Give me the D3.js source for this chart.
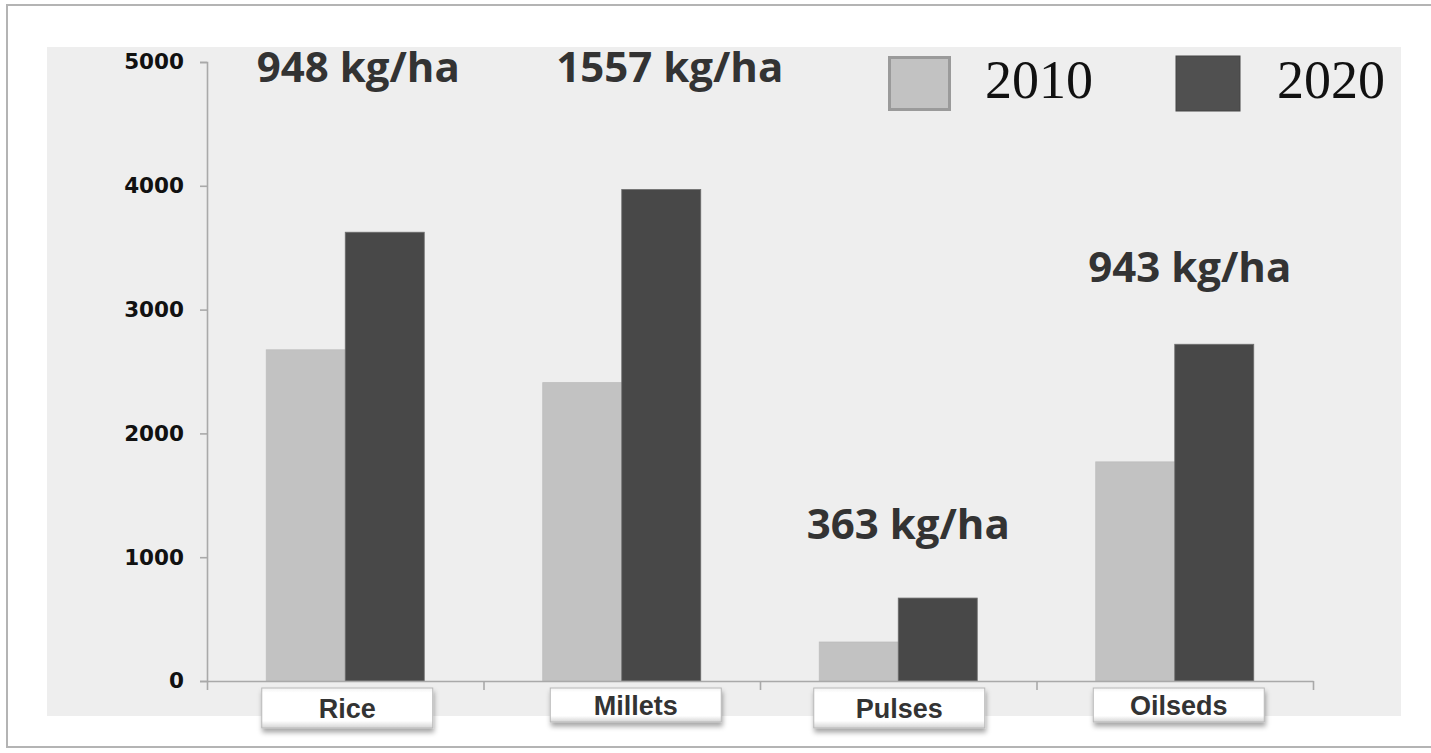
<!DOCTYPE html>
<html>
<head>
<meta charset="utf-8">
<script src="https://cdn.jsdelivr.net/npm/d3@7"></script>
<style>
    body { margin: 0; background: #fff; }
</style>
</head>
<body>
<script>

const crops = ['Rice', 'Millets', 'Pulses', 'Oilseds']
const years = ['2010', '2020']
const values2010 = [2675, 2410, 315, 1770]
const values2020 = [3625, 3970, 670, 2720]
const yieldLabels = ['948 kg/ha', '1557 kg/ha', '363 kg/ha', '943 kg/ha']
const yTicks = [0, 1000, 2000, 3000, 4000, 5000]

// layout only: where the yield labels and crop boxes sit
const yieldLabelLevel = [4840, 4840, 1150, 3220]
const yieldLabelNudge = [13, 48, 10, 15]
const cropBoxNudge = [2, 14, 1, 4]
const cropBoxHeight = [40, 34, 40, 34]

const renderChart = () => {

    const w = 1431
    const h = 753
    const left = 207
    const right = 1313
    const top = 62
    const bottom = 681

    const svg = d3.select('body')
        .append('svg')
            .attr('width', w)
            .attr('height', h)

    const defs = svg.append('defs')

    defs.append('filter')
        .attr('id', 'shadow')
        .attr('x', '-10%')
        .attr('y', '-20%')
        .attr('width', '120%')
        .attr('height', '160%')
        .append('feDropShadow')
            .attr('dx', 1)
            .attr('dy', 4)
            .attr('stdDeviation', 2.5)
            .attr('flood-color', '#000')
            .attr('flood-opacity', 0.35)

    const grad = defs.append('linearGradient')
        .attr('id', 'boxGrad')
        .attr('x1', 0).attr('y1', 0)
        .attr('x2', 0).attr('y2', 1)
    grad.append('stop').attr('offset', '0%').attr('stop-color', '#f2f2f2')
    grad.append('stop').attr('offset', '12%').attr('stop-color', '#ffffff')
    grad.append('stop').attr('offset', '82%').attr('stop-color', '#ffffff')
    grad.append('stop').attr('offset', '100%').attr('stop-color', '#d4d4d4')

    // frame and plot background
    svg.append('rect')
        .attr('x', 7)
        .attr('y', 5)
        .attr('width', 1460)
        .attr('height', 742)
        .attr('fill', '#fff')
        .attr('stroke', '#b4b4b4')
        .attr('stroke-width', 2)

    svg.append('rect')
        .attr('x', 47)
        .attr('y', 47)
        .attr('width', 1354)
        .attr('height', 669)
        .attr('fill', '#eeeeee')

    // scales
    const xScale = d3.scaleBand()
        .domain(crops)
        .range([left, right])

    const xSub = d3.scaleBand()
        .domain(years)
        .range([0, xScale.bandwidth()])
        .paddingOuter(0.75)

    const yScale = d3.scaleLinear()
        .domain([0, 5000])
        .range([bottom, top])

    const colors = { '2010': '#c2c2c2', '2020': '#484848' }

    const rows = crops.map((c, i) => ({ crop: c, i: i, vals: [values2010[i], values2020[i]] }))

    // bars
    const groups = svg.selectAll('.crop')
        .data(rows)
        .enter()
        .append('g')
            .attr('class', 'crop')
            .attr('transform', d => `translate(${xScale(d.crop)}, 0)`)

    groups.selectAll('rect')
        .data(d => years.map((y, j) => ({ year: y, value: d.vals[j] })))
        .enter()
        .append('rect')
            .attr('x', d => xSub(d.year))
            .attr('y', d => yScale(d.value))
            .attr('width', xSub.bandwidth())
            .attr('height', d => bottom - yScale(d.value))
            .attr('fill', d => colors[d.year])
            .attr('stroke', d => d.year === '2020' ? '#6e6e6e' : '#bdbdbd')
            .attr('stroke-width', 0.8)

    // y axis
    const yAxis = d3.axisLeft(yScale)
        .tickValues(yTicks)
        .tickSize(7)
        .tickSizeOuter(7)
        .tickPadding(16)
        .tickFormat(d3.format('d'))

    const gy = svg.append('g')
        .attr('transform', `translate(${left}, 0)`)
        .call(yAxis)

    // x axis, ticks on category boundaries
    const xEdges = d3.scaleLinear()
        .domain([0, crops.length])
        .range([left, right])

    const gx = svg.append('g')
        .attr('transform', `translate(0, ${bottom})`)
        .call(d3.axisBottom(xEdges)
            .tickValues(d3.range(0, crops.length + 1))
            .tickSize(9)
            .tickSizeOuter(0)
            .tickFormat(''))

    svg.selectAll('.domain, .tick line')
        .attr('stroke', '#a9a9a9')
        .attr('stroke-width', 1.6)

    gy.selectAll('text')
        .attr('font-family', 'DejaVu Sans')
        .attr('font-weight', 'bold')
        .attr('font-size', 21.5)
        .attr('fill', '#111')

    // crop label boxes
    const boxes = svg.selectAll('.crop-box')
        .data(rows)
        .enter()
        .append('g')
            .attr('class', 'crop-box')
            .attr('transform', d => `translate(${xScale(d.crop) + xScale.bandwidth() / 2 + cropBoxNudge[d.i]}, 688)`)

    boxes.append('rect')
        .attr('x', -85.5)
        .attr('y', 0)
        .attr('width', 171)
        .attr('height', d => cropBoxHeight[d.i])
        .attr('fill', 'url(#boxGrad)')
        .attr('stroke', '#b8b8b8')
        .attr('stroke-width', 1)
        .attr('filter', 'url(#shadow)')

    boxes.append('text')
        .attr('x', 0)
        .attr('y', d => cropBoxHeight[d.i] / 2 + 10)
        .attr('text-anchor', 'middle')
        .attr('font-family', 'Liberation Sans, Arial')
        .attr('font-weight', 'bold')
        .attr('font-size', 27)
        .attr('fill', '#333')
        .text(d => d.crop)

    // yield annotations
    svg.selectAll('.yield')
        .data(rows)
        .enter()
        .append('text')
            .attr('class', 'yield')
            .attr('x', d => xScale(d.crop) + xScale.bandwidth() / 2 + yieldLabelNudge[d.i])
            .attr('y', d => yScale(yieldLabelLevel[d.i]))
            .attr('text-anchor', 'middle')
            .attr('font-family', 'Open Sans')
            .attr('font-weight', 'bold')
            .attr('font-size', 42)
            .attr('fill', '#333')
            .text(d => yieldLabels[d.i])

    // legend
    const legendX = [888, 1176]
    const legend = svg.selectAll('.legend')
        .data(years)
        .enter()
        .append('g')
            .attr('class', 'legend')
            .attr('transform', (d, i) => `translate(${legendX[i]}, 56)`)

    legend.append('rect')
        .attr('x', d => d === '2010' ? 1.5 : 0)
        .attr('y', d => d === '2010' ? 1.5 : 0)
        .attr('width', d => d === '2010' ? 60 : 64)
        .attr('height', d => d === '2010' ? 52 : 55)
        .attr('fill', d => d === '2010' ? '#c2c2c2' : '#505050')
        .attr('stroke', d => d === '2010' ? '#9a9a9a' : '#444')
        .attr('stroke-width', d => d === '2010' ? 3 : 1)

    legend.append('text')
        .attr('x', (d, i) => i === 0 ? 97 : 101)
        .attr('y', 42)
        .attr('font-family', 'Liberation Serif, Times New Roman')
        .attr('font-size', 54)
        .attr('fill', '#111')
        .text(d => d)
}

renderChart()

</script>
</body>
</html>
